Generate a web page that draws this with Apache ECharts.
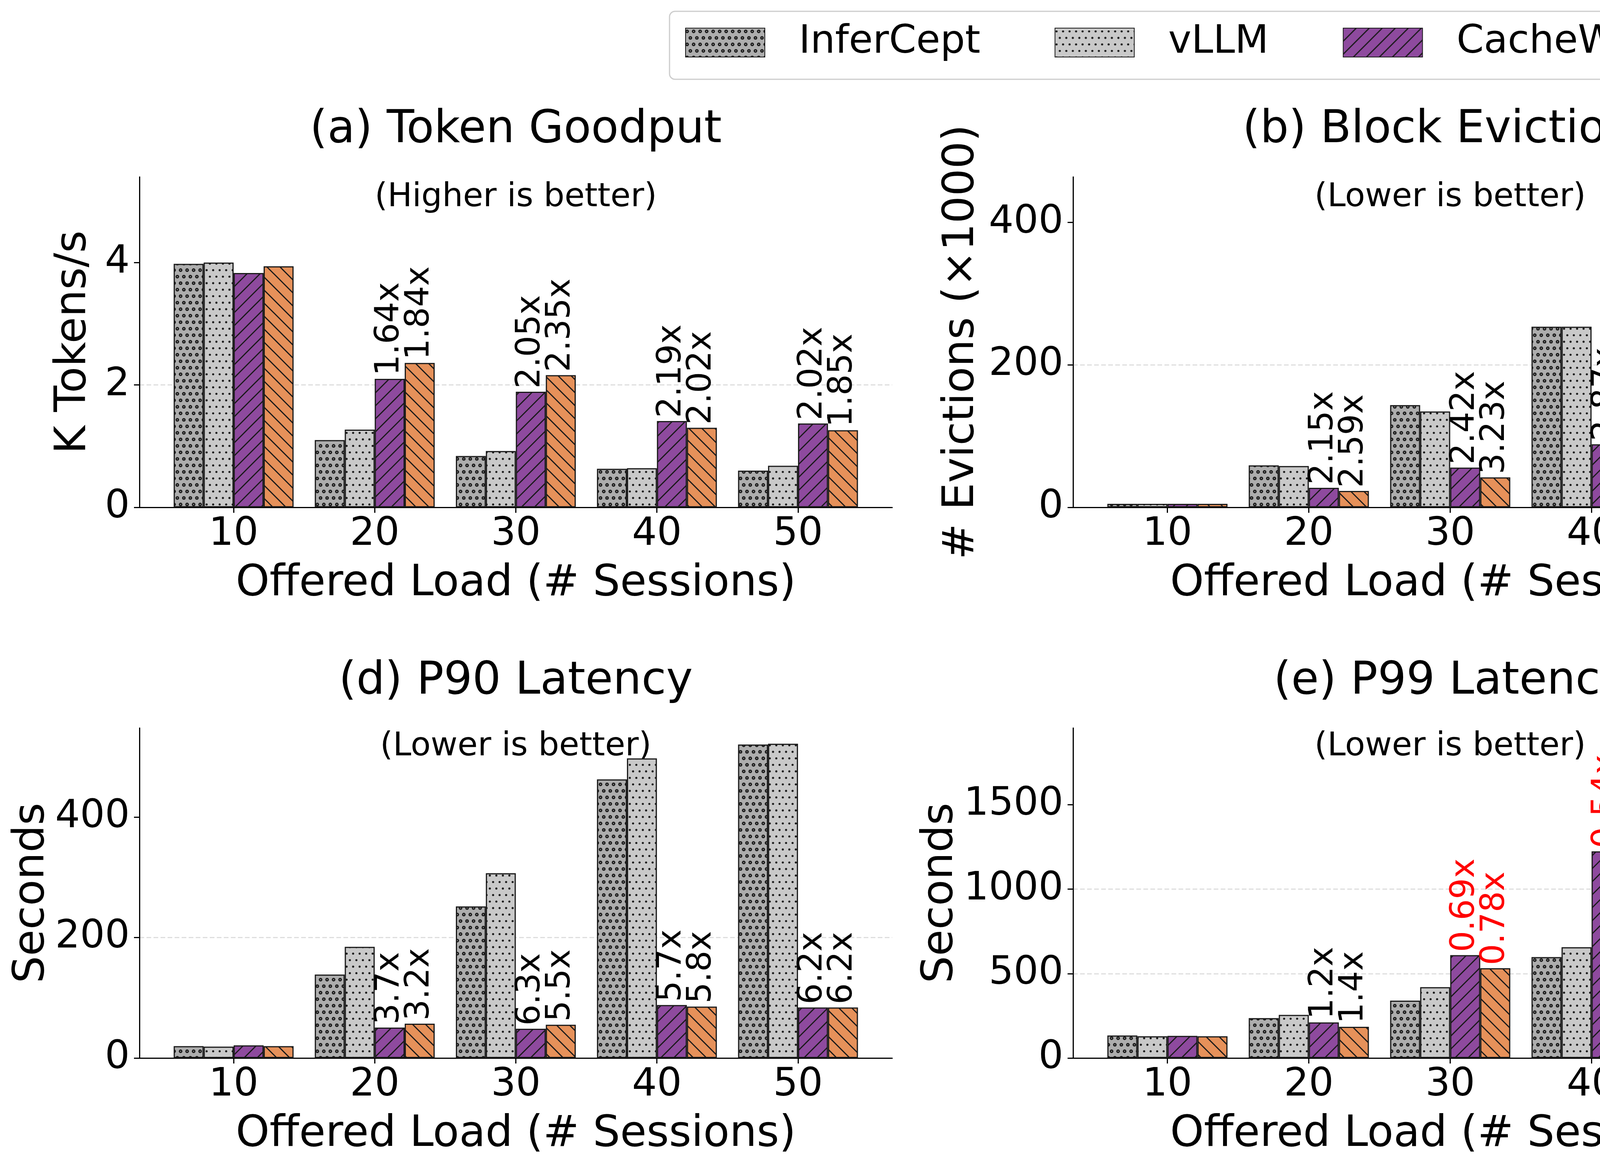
<!DOCTYPE html>
<html><head><meta charset="utf-8">
<script src="https://cdn.jsdelivr.net/npm/echarts@6/dist/echarts.min.js"></script>
<style>html,body{margin:0;padding:0;background:#fff}#c{width:7097px;height:2988px}</style>
</head><body><div id="c"></div>
<script>
// ---------------- DATA ----------------
const loads = [10, 20, 30, 40, 50];
const seriesNames = ['InferCept', 'vLLM', 'CacheWise', 'CacheWise*'];
const panelTitles = ['(a) Token Goodput', '(b) Block Evictions', '(c) P50 Latency', '(d) P90 Latency', '(e) P99 Latency', '(f) Throughput'];
const panelNotes = ['(Higher is better)', '(Lower is better)', '(Lower is better)', '(Lower is better)', '(Lower is better)', '(Higher is better)'];
const yNames = ['K Tokens/s', '# Evictions (\u00d71000)', 'Seconds', 'Seconds', 'Seconds', 'LLM req/s'];
const xName = 'Offered Load (# Sessions)';

// (a) Token Goodput
const goodputInferCept = [3.98, 1.10, 0.84, 0.63, 0.60];
const goodputVLLM = [4.00, 1.27, 0.92, 0.64, 0.68];
const goodputCacheWise = [3.83, 2.10, 1.89, 1.41, 1.37];
const goodputCacheWiseStar = [3.94, 2.36, 2.16, 1.30, 1.26];
const goodputLabelsCW = ['', '1.64x', '2.05x', '2.19x', '2.02x'];
const goodputLabelsCWS = ['', '1.84x', '2.35x', '2.02x', '1.85x'];
const goodputTicks = [0, 2, 4];

// (b) Block Evictions (x1000)
const evictInferCept = [5, 59, 143.5, 253.6, 343.7];
const evictVLLM = [5, 58, 134.6, 253.6, 307];
const evictCacheWise = [5, 27.4, 55.8, 88.6, 118];
const evictCacheWiseStar = [5, 23, 42.1, 81.8, 122.9];
const evictLabelsCW = ['', '2.15x', '2.42x', '2.87x', '2.60x'];
const evictLabelsCWS = ['', '2.59x', '3.23x', '3.11x', '2.49x'];
const evictTicks = [0, 200, 400];

// (c) P50 Latency (s)
const p50InferCept = [1.2, 42.3, 96.6, 197.7, 216.4];
const p50VLLM = [1.2, 6.0, 43.1, 206.5, 235.8];
const p50CacheWise = [1.0, 8.4, 11.0, 16.4, 16.5];
const p50CacheWiseStar = [1.0, 6.3, 8.5, 18.3, 17.5];
const p50LabelsCW = ['', '', '3.9x', '12.8x', '14.3x'];
const p50LabelsCWS = ['', '', '5.1x', '11.2x', '13.6x'];
const p50Ticks = [0, 100, 200];

// (d) P90 Latency (s)
const p90InferCept = [19.7, 138.6, 251.6, 462.4, 520.2];
const p90VLLM = [19.0, 184.6, 306.7, 497.2, 521.5];
const p90CacheWise = [21.0, 50.6, 48.6, 88.0, 84.0];
const p90CacheWiseStar = [19.7, 57.1, 55.2, 85.4, 84.0];
const p90LabelsCW = ['', '3.7x', '6.3x', '5.7x', '6.2x'];
const p90LabelsCWS = ['', '3.2x', '5.5x', '5.8x', '6.2x'];
const p90Ticks = [0, 200, 400];

// (e) P99 Latency (s)
const p99InferCept = [133.6, 236.7, 340, 597.7, 623.5];
const p99VLLM = [129, 255.5, 419.6, 656.3, 670.4];
const p99CacheWise = [131, 211, 609.4, 1223.6, 1800];
const p99CacheWiseStar = [129, 185, 532, 1258.7, 1861];
const p99LabelsCW = ['', '1.2x', '0.69x', '0.54x', '0.37x'];
const p99LabelsCWS = ['', '1.4x', '0.78x', '0.52x', '0.36x'];
const p99LabelWorse = [false, false, true, true, true];
const p99Ticks = [0, 500, 1000, 1500];

// (f) Throughput (LLM req/s)
const tputInferCept = [0.1506, 0.1176, 0.1099, 0.0850, 0.0866];
const tputVLLM = [0.1490, 0.1176, 0.1115, 0.0850, 0.0914];
const tputCacheWise = [0.1470, 0.1706, 0.1948, 0.1719, 0.1826];
const tputCacheWiseStar = [0.1496, 0.1719, 0.1997, 0.1719, 0.1754];
const tputLabelsCW = ['', '1.5x', '1.7x', '2.0x', '2.0x'];
const tputLabelsCWS = ['', '1.5x', '1.8x', '2.0x', '1.9x'];
const tputTicks = [0, 0.1, 0.2];

// y-axis upper limits
const yMax = [5.4, 464, 247.6, 547.6, 1954, 0.2696];
const yInterval = [2, 200, 100, 200, 500, 0.1];

// ---------------- STYLE / LAYOUT ----------------
const FONT = 'DejaVu Sans';
const EDGE = '#1a1a1a';
const grids = [
  {left: 357, top: 453, width: 1927, height: 846},
  {left: 2747, top: 453, width: 1931, height: 846},
  {left: 5138, top: 453, width: 1929, height: 846},
  {left: 357, top: 1864, width: 1927, height: 845},
  {left: 2747, top: 1864, width: 1931, height: 845},
  {left: 5138, top: 1864, width: 1929, height: 845}
];
const yNameGaps = [113, 230, 215, 218, 277, 213];
const titleY = [334, 334, 334, 1746, 1746, 1746];
const noteY = [506, 506, 506, 1912, 1912, 1885];
const noteXFrac = [0.5, 0.5, 0.5, 0.5, 0.5, 0.25];

function makePattern(kind, bg) {
  const S = 100;
  const cv = document.createElement('canvas');
  cv.width = S; cv.height = S;
  const g = cv.getContext('2d');
  g.fillStyle = bg; g.fillRect(0, 0, S, S);
  g.strokeStyle = EDGE; g.fillStyle = EDGE; g.lineWidth = 3;
  const sp = S / 3;
  if (kind === 'fwd' || kind === 'back') {
    for (let k = -4; k <= 8; k++) {
      const c = k * sp;
      g.beginPath();
      if (kind === 'fwd') { g.moveTo(-20, c + 20); g.lineTo(S + 20, c - S - 20); }
      else { g.moveTo(-20, c - 20); g.lineTo(S + 20, c + S + 20); }
      g.stroke();
    }
  } else {
    const d = S / 6;
    for (let r = -1; r <= 6; r++) {
      for (let col = -1; col <= 7; col++) {
        const x = col * d + (r % 2 ? d / 2 : 0) + 4;
        const y = r * d + d / 2;
        g.fillStyle = EDGE;
        g.beginPath(); g.arc(x, y, kind === 'big' ? 4.6 : 2.7, 0, Math.PI * 2); g.fill();
        if (kind === 'big') { g.fillStyle = bg; g.beginPath(); g.arc(x, y, 1.3, 0, Math.PI * 2); g.fill(); }
      }
    }
  }
  return {image: cv, repeat: 'repeat'};
}
const fills = [
  makePattern('big', '#adadad'),
  makePattern('small', '#c9c9c9'),
  makePattern('fwd', '#8e4a9e'),
  makePattern('back', '#e6915a')
];

const panelValues = [
  [goodputInferCept, goodputVLLM, goodputCacheWise, goodputCacheWiseStar],
  [evictInferCept, evictVLLM, evictCacheWise, evictCacheWiseStar],
  [p50InferCept, p50VLLM, p50CacheWise, p50CacheWiseStar],
  [p90InferCept, p90VLLM, p90CacheWise, p90CacheWiseStar],
  [p99InferCept, p99VLLM, p99CacheWise, p99CacheWiseStar],
  [tputInferCept, tputVLLM, tputCacheWise, tputCacheWiseStar]
];
const panelLabels = [
  [goodputLabelsCW, goodputLabelsCWS],
  [evictLabelsCW, evictLabelsCWS],
  [p50LabelsCW, p50LabelsCWS],
  [p90LabelsCW, p90LabelsCWS],
  [p99LabelsCW, p99LabelsCWS],
  [tputLabelsCW, tputLabelsCWS]
];
const panelTicks = [goodputTicks, evictTicks, p50Ticks, p90Ticks, p99Ticks, tputTicks];

const xAxes = [], yAxes = [], series = [], graphics = [];
grids.forEach((gr, i) => {
  xAxes.push({
    type: 'value', gridIndex: i, min: 3.325, max: 56.675,
    axisLine: {show: true, onZero: false, lineStyle: {color: '#000', width: 3}},
    axisTick: {show: true, customValues: loads, length: 14, lineStyle: {color: '#000', width: 3}},
    axisLabel: {show: true, customValues: loads, margin: 20, fontSize: 100, fontFamily: FONT, color: '#000',
      formatter: v => String(v)},
    splitLine: {show: false},
    name: xName, nameLocation: 'middle', nameGap: 141,
    nameTextStyle: {fontSize: 110, fontFamily: FONT, color: '#000'}
  });
  const tk = panelTicks[i];
  yAxes.push({
    type: 'value', gridIndex: i, min: 0, max: yMax[i], interval: yInterval[i],
    axisLine: {show: true, lineStyle: {color: '#000', width: 3}},
    axisTick: {show: true, customValues: tk, length: 14, lineStyle: {color: '#000', width: 3}},
    axisLabel: {show: true, customValues: tk, margin: 25, fontSize: 100, fontFamily: FONT, color: '#000',
      formatter: v => (i === 5 ? Number(v).toFixed(1) : String(v))},
    splitLine: {show: true, showMinLine: false, showMaxLine: false,
      lineStyle: {color: '#dedede', width: 3, type: [12, 6]}},
    name: yNames[i], nameLocation: 'middle', nameGap: yNameGaps[i],
    nameTextStyle: {fontSize: 110, fontFamily: FONT, color: '#000'}
  });
  panelValues[i].forEach((vals, s) => {
    const labs = s >= 2 ? panelLabels[i][s - 2] : null;
    series.push({
      type: 'bar', name: seriesNames[s], xAxisIndex: i, yAxisIndex: i,
      barWidth: '21.25%', barGap: '0%',
      itemStyle: {color: fills[s], borderColor: EDGE, borderWidth: 3},
      emphasis: {disabled: true},
      data: loads.map((x, j) => {
        const item = {value: [x, vals[j]]};
        if (labs && labs[j]) {
          item.label = {
            show: true, formatter: labs[j], position: 'top', rotate: 90, align: 'left', verticalAlign: 'middle',
            distance: 8, fontSize: 85, fontFamily: FONT,
            color: (i === 4 && p99LabelWorse[j]) ? '#ff0000' : '#000'
          };
        }
        return item;
      })
    });
  });
  graphics.push({
    type: 'text', x: gr.left + gr.width / 2, y: titleY[i], silent: true,
    style: {text: panelTitles[i], fontSize: 115, fontFamily: FONT, fill: '#000', align: 'center', verticalAlign: 'middle'}
  });
  graphics.push({
    type: 'text', x: gr.left + gr.width * noteXFrac[i], y: noteY[i], silent: true,
    style: {text: panelNotes[i], fontSize: 84, fontFamily: FONT, fill: '#000', align: 'center', verticalAlign: 'middle'}
  });
});

const chart = echarts.init(document.getElementById('c'), null, {renderer: 'canvas'});
chart.setOption({
  animation: false,
  backgroundColor: '#fff',
  textStyle: {fontFamily: FONT},
  legend: {
    show: true, data: seriesNames, selectedMode: false, orient: 'horizontal', icon: 'rect',
    left: 1714, top: 29, padding: [30, 37, 44, 40],
    itemWidth: 203, itemHeight: 74, itemGap: 190,
    borderColor: '#cccccc', borderWidth: 3, borderRadius: 14, backgroundColor: '#fff',
    textStyle: {fontSize: 100, fontFamily: FONT, color: '#000', padding: [0, 0, 0, 82]}
  },
  grid: grids.map(g => Object.assign({containLabel: false}, g)),
  xAxis: xAxes, yAxis: yAxes, series: series, graphic: graphics
});
</script></body></html>
